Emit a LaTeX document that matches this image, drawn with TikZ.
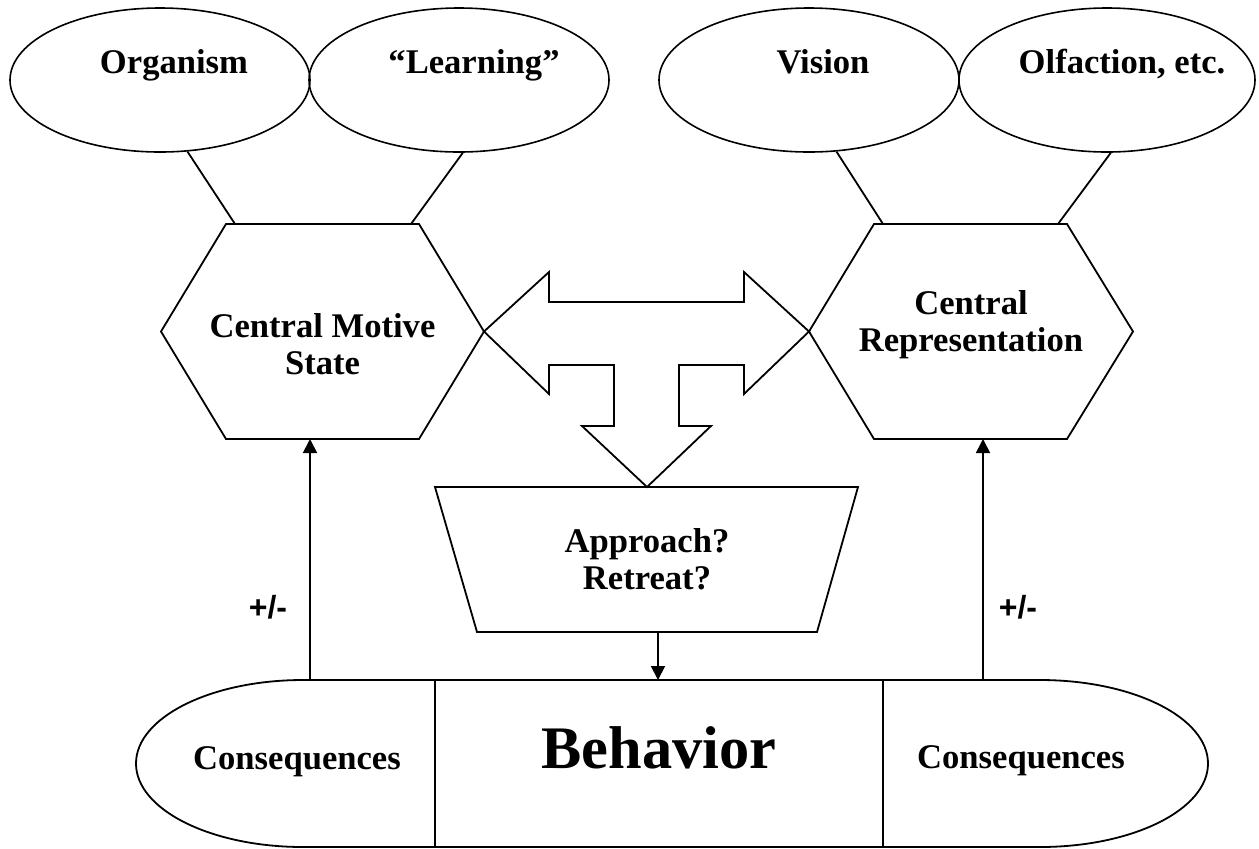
\documentclass[tikz,border=0pt]{standalone}
\usepackage{fontspec}
\setmainfont{Liberation Serif}
\newfontfamily\pmfont{Liberation Sans}
\usetikzlibrary{arrows.meta,shapes.geometric}
\begin{document}
\begin{tikzpicture}[x=0.5pt,y=-0.5pt, line width=0.9pt, line join=miter,
  lbl/.style={font=\fontsize{17.3}{18.5}\selectfont\bfseries, inner sep=0pt, align=center},
  oval/.style={draw, ellipse, minimum width=150pt, minimum height=72pt, inner sep=0pt, line width=0.8pt},
  arr/.style={-{Triangle[length=7pt,width=7pt]}},
  pm/.style={font=\fontsize{16}{18.5}\selectfont\pmfont\bfseries, inner sep=0pt}]
\useasboundingbox (0,0) rectangle (1259,848);

% top ellipses
\node[oval] (org) at (160,80) {};
\node[oval] (lrn) at (459,80) {};
\node[oval] (vis) at (809,80) {};
\node[oval, minimum width=148pt] (olf) at (1107,80) {};
\node[lbl, anchor=base] (orgT) at (174,73) {Organism};
\node[lbl, anchor=base] (lrnT) at (474,73) {“Learning”};
\node[lbl, anchor=base] (visT) at (823,73) {Vision};
\node[lbl, anchor=base] (olfT) at (1122,73) {Olfaction, etc.};

% hexagons
\draw (161,331.5) -- (226,224) -- (419,224) -- (484,331.5) -- (419,439) -- (226,439) -- cycle;
\draw (809,331.5) -- (874,224) -- (1067,224) -- (1133,331.5) -- (1067,439) -- (874,439) -- cycle;
\node[lbl] (cms) at (322.5,344) {Central Motive\\State};
\node[lbl] (crep) at (971,324.5) {Central\\Representation};

\coordinate (cmsA) at (235,224);
\coordinate (cmsB) at (411,224);
\coordinate (crA) at (883,224);
\coordinate (crB) at (1058,224);
\draw (org.-69.4) -- (cmsA);
\draw (lrn.-87.6) -- (cmsB);
\draw (vis.-69.4) -- (crA);
\draw (olf.-87.6) -- (crB);

% T-shaped arrow
\draw (484,331.5) -- (549,272) -- (549,302) -- (744,302) -- (744,272) -- (809,331.5)
  -- (744,394) -- (744,365) -- (679,365) -- (679,426) -- (711,426) -- (647,487)
  -- (582,426) -- (614,426) -- (614,365) -- (549,365) -- (549,394) -- cycle;

% trapezoid
\draw (435,487) -- (858,487) -- (817,632) -- (477,632) -- cycle;
\node[lbl] (appr) at (647,559.5) {Approach?\\Retreat?};

% bottom shape
\draw (303,680) -- (1040,680)
  .. controls (1132.8,680) and (1208,717.4) .. (1208,763.5)
  .. controls (1208,809.6) and (1132.8,847) .. (1040,847)
  -- (303,847)
  .. controls (210.8,847) and (136,809.6) .. (136,763.5)
  .. controls (136,717.4) and (210.8,680) .. (303,680) -- cycle;
\coordinate (d1t) at (435,680); \coordinate (d1b) at (435,847);
\coordinate (d2t) at (883,680); \coordinate (d2b) at (883,847);
\draw (d1t) -- (d1b);
\draw (d2t) -- (d2b);
\node[lbl, anchor=base] (consL) at (297,769) {Consequences};
\node[font=\fontsize{30.2}{34}\selectfont\bfseries, inner sep=0pt, anchor=base] (behav) at (659,768) {Behavior};
\node[lbl, anchor=base] (consR) at (1021,768) {Consequences};

% arrows
\coordinate (cmsBot) at (310,439);
\coordinate (clTop) at (310,680);
\coordinate (crBot) at (983,439);
\coordinate (crTop) at (983,680);
\coordinate (apBot) at (658,632);
\coordinate (bhTop) at (658,680);
\draw[arr] (clTop) -- (cmsBot);
\draw[arr] (crTop) -- (crBot);
\draw[arr] (apBot) -- (bhTop);

\node[pm] (pmL) at (268,607) {+/-};
\node[pm] (pmR) at (1018,607) {+/-};
\end{tikzpicture}
\end{document}
